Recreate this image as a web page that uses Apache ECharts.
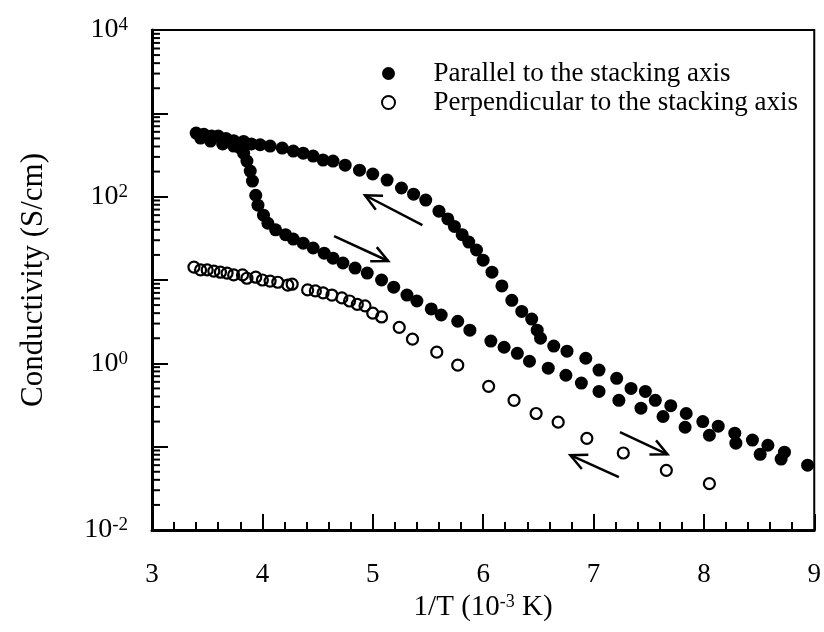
<!DOCTYPE html>
<html>
<head>
<meta charset="utf-8">
<script src="https://cdn.jsdelivr.net/npm/echarts@6/dist/echarts.min.js"></script>
<style>
  html, body { margin: 0; padding: 0; background: #fff; }
  #main { width: 824px; height: 632px; }
</style>
</head>
<body>
<div id="main"></div>
<script>
// upper branch (heating), filled circles
const warmX = [3.40, 3.47, 3.54, 3.60, 3.67, 3.74, 3.83, 3.90, 3.98, 4.07, 4.18, 4.28, 4.37, 4.46, 4.55, 4.64, 4.75, 4.88,
  5.00, 5.13, 5.26, 5.37, 5.48, 5.60, 5.68, 5.74, 5.81, 5.87, 5.94, 6.00, 6.08, 6.17, 6.26, 6.35, 6.44, 6.49, 6.52,
  6.64, 6.76, 6.93, 7.05, 7.21, 7.34, 7.47, 7.56, 7.70, 7.84, 7.99, 8.13, 8.28, 8.44, 8.58, 8.73, 8.94];
const warmY = [580, 560, 533, 533, 500, 470, 460, 430, 420, 405, 383, 352, 333, 307, 275, 267, 239, 208,
  187, 158, 127, 107, 91, 67, 54, 44, 35, 28.5, 22.9, 17.3, 12.4, 8.5, 5.7, 4.2, 3.4, 2.5, 2.0,
  1.61, 1.40, 1.15, 0.83, 0.66, 0.50, 0.46, 0.36, 0.31, 0.25, 0.20, 0.176, 0.145, 0.120, 0.104, 0.086, 0.060];

// lower branch (cooling), filled circles
const coolX = [3.44, 3.53, 3.64, 3.74, 3.80, 3.83, 3.86, 3.89, 3.91, 3.94, 3.96, 4.01, 4.05, 4.12, 4.21, 4.28, 4.37,
  4.46, 4.56, 4.64, 4.73, 4.84, 4.95, 5.08, 5.19, 5.31, 5.40, 5.53, 5.62, 5.77, 5.88, 6.07, 6.19, 6.31, 6.42,
  6.59, 6.75, 6.89, 7.05, 7.23, 7.43, 7.63, 7.83, 8.05, 8.29, 8.51, 8.70];
const coolY = [505, 464, 430, 405, 383, 333, 267, 203, 154, 104, 79, 60, 48, 40, 35, 31, 27.7,
  24.2, 21.0, 18.3, 16.0, 13.9, 12.1, 10.0, 8.2, 6.6, 5.6, 4.5, 3.8, 3.2, 2.5, 1.85, 1.56, 1.32, 1.06,
  0.875, 0.72, 0.58, 0.46, 0.36, 0.29, 0.23, 0.171, 0.137, 0.110, 0.081, 0.071];

// perpendicular, open circles
const perpX = [3.38, 3.44, 3.50, 3.56, 3.62, 3.68, 3.74, 3.82, 3.86, 3.94, 4.00, 4.07, 4.14, 4.23, 4.27, 4.41, 4.48,
  4.55, 4.63, 4.72, 4.79, 4.86, 4.93, 5.00, 5.08, 5.24, 5.36, 5.58, 5.77, 6.05, 6.28, 6.48, 6.68, 6.94, 7.27,
  7.66, 8.05];
const perpY = [14.3, 13.2, 13.2, 12.8, 12.4, 12.1, 11.5, 11.5, 10.5, 10.8, 10.0, 9.7, 9.4, 8.7, 8.9, 7.6, 7.4,
  7.0, 6.6, 6.1, 5.6, 5.1, 4.9, 4.0, 3.6, 2.7, 1.95, 1.36, 0.95, 0.53, 0.36, 0.25, 0.197, 0.126, 0.084,
  0.052, 0.036];

// hysteresis arrows: start -> head
const arrowX1 = [5.45, 4.65, 7.23, 7.24];
const arrowY1 = [45.6, 33.6, 0.043, 0.149];
const arrowX2 = [4.93, 5.14, 6.79, 7.67];
const arrowY2 = [104, 16.9, 0.079, 0.081];

const xTicks = [3, 4, 5, 6, 7, 8, 9];
const decades = [-2, -1, 0, 1, 2, 3];
const minorMult = [2, 3, 4, 5, 6, 7, 8, 9];

const names = ['Parallel to the stacking axis', 'Perpendicular to the stacking axis'];
const font = 'Liberation Serif';

const parallelData = warmX.map((x, i) => [x, warmY[i]])
  .concat(coolX.map((x, i) => [x, coolY[i]]));
const perpData = perpX.map((x, i) => [x, perpY[i]]);
const arrowData = arrowX1.map((x, i) => [x, arrowY1[i], arrowX2[i], arrowY2[i]]);

const yMinorTicks = [];
decades.forEach(d => minorMult.forEach(m => yMinorTicks.push([xTicks[0], m * Math.pow(10, d)])));

const chart = echarts.init(document.getElementById('main'));

const option = {
  animation: false,
  backgroundColor: '#fff',
  textStyle: { fontFamily: font, color: '#000' },
  grid: {
    left: 152, right: 7, top: 30, bottom: 102,
    show: true, borderColor: '#000', borderWidth: 2
  },
  legend: {
    orient: 'vertical',
    left: 376, top: 55,
    itemWidth: 80, itemHeight: 13, itemGap: 2,
    data: names,
    textStyle: { fontFamily: font, fontSize: 27, color: '#000', lineHeight: 26 }
  },
  xAxis: {
    type: 'value',
    min: xTicks[0], max: xTicks[xTicks.length - 1], interval: 1,
    name: '1/T (10{sup|-3} K)',
    nameLocation: 'middle',
    nameGap: 63,
    nameTextStyle: {
      fontFamily: font, fontSize: 29, color: '#000',
      rich: { sup: { fontFamily: font, fontSize: 18, verticalAlign: 'top', lineHeight: 18 } }
    },
    axisLine: { lineStyle: { color: '#000', width: 3 } },
    axisTick: { inside: true, length: 16, lineStyle: { color: '#000', width: 2 } },
    minorTick: { show: true, splitNumber: 5, length: 8, lineStyle: { color: '#000', width: 2 } },
    axisLabel: { fontFamily: font, fontSize: 27, color: '#000', margin: 31 },
    splitLine: { show: false }
  },
  yAxis: {
    type: 'log',
    logBase: 10,
    min: 0.01, max: 10000,
    name: 'Conductivity (S/cm)',
    nameLocation: 'middle',
    nameGap: 103,
    nameTextStyle: { fontFamily: font, fontSize: 31, color: '#000' },
    axisLine: { lineStyle: { color: '#000', width: 3 } },
    axisTick: { inside: true, length: 16, lineStyle: { color: '#000', width: 2 } },
    axisLabel: {
      fontFamily: font, fontSize: 28, color: '#000', margin: 24,
      formatter: v => {
        const e = Math.round(Math.log10(v));
        return e % 2 === 0 ? '10{sup|' + e + '}' : '';
      },
      rich: { sup: { fontFamily: font, fontSize: 19, verticalAlign: 'top', lineHeight: 19 } }
    },
    splitLine: { show: false }
  },
  series: [
    {
      name: names[0],
      type: 'scatter',
      symbol: 'circle',
      symbolSize: 13,
      itemStyle: { color: '#000', opacity: 1 },
      data: parallelData,
      z: 3
    },
    {
      name: names[1],
      type: 'scatter',
      symbol: 'circle',
      symbolSize: 11,
      itemStyle: { color: 'rgba(255,255,255,0)', borderColor: '#000', borderWidth: 2.2, opacity: 1 },
      data: perpData,
      z: 3
    },
    {
      type: 'custom',
      name: 'arrows',
      silent: true,
      data: arrowData,
      encode: { x: [0, 2], y: [1, 3] },
      renderItem: (params, api) => {
        const p1 = api.coord([api.value(0), api.value(1)]);
        const p2 = api.coord([api.value(2), api.value(3)]);
        const ang = Math.atan2(p2[1] - p1[1], p2[0] - p1[0]);
        const h = 18, spread = 0.45;
        const a = [p2[0] - h * Math.cos(ang - spread), p2[1] - h * Math.sin(ang - spread)];
        const b = [p2[0] - h * Math.cos(ang + spread), p2[1] - h * Math.sin(ang + spread)];
        return {
          type: 'group',
          children: [
            { type: 'line', shape: { x1: p1[0], y1: p1[1], x2: p2[0], y2: p2[1] },
              style: { stroke: '#000', lineWidth: 2.5 } },
            { type: 'polyline', shape: { points: [a, p2, b] },
              style: { stroke: '#000', lineWidth: 2.5, fill: null } }
          ]
        };
      }
    },
    {
      type: 'custom',
      name: 'yMinor',
      silent: true,
      data: yMinorTicks,
      renderItem: (params, api) => {
        const p = api.coord([api.value(0), api.value(1)]);
        return {
          type: 'line',
          shape: { x1: p[0], y1: p[1], x2: p[0] + 8, y2: p[1] },
          style: { stroke: '#000', lineWidth: 2 }
        };
      }
    }
  ]
};

chart.setOption(option);
window.addEventListener('resize', () => chart.resize());
</script>
</body>
</html>
